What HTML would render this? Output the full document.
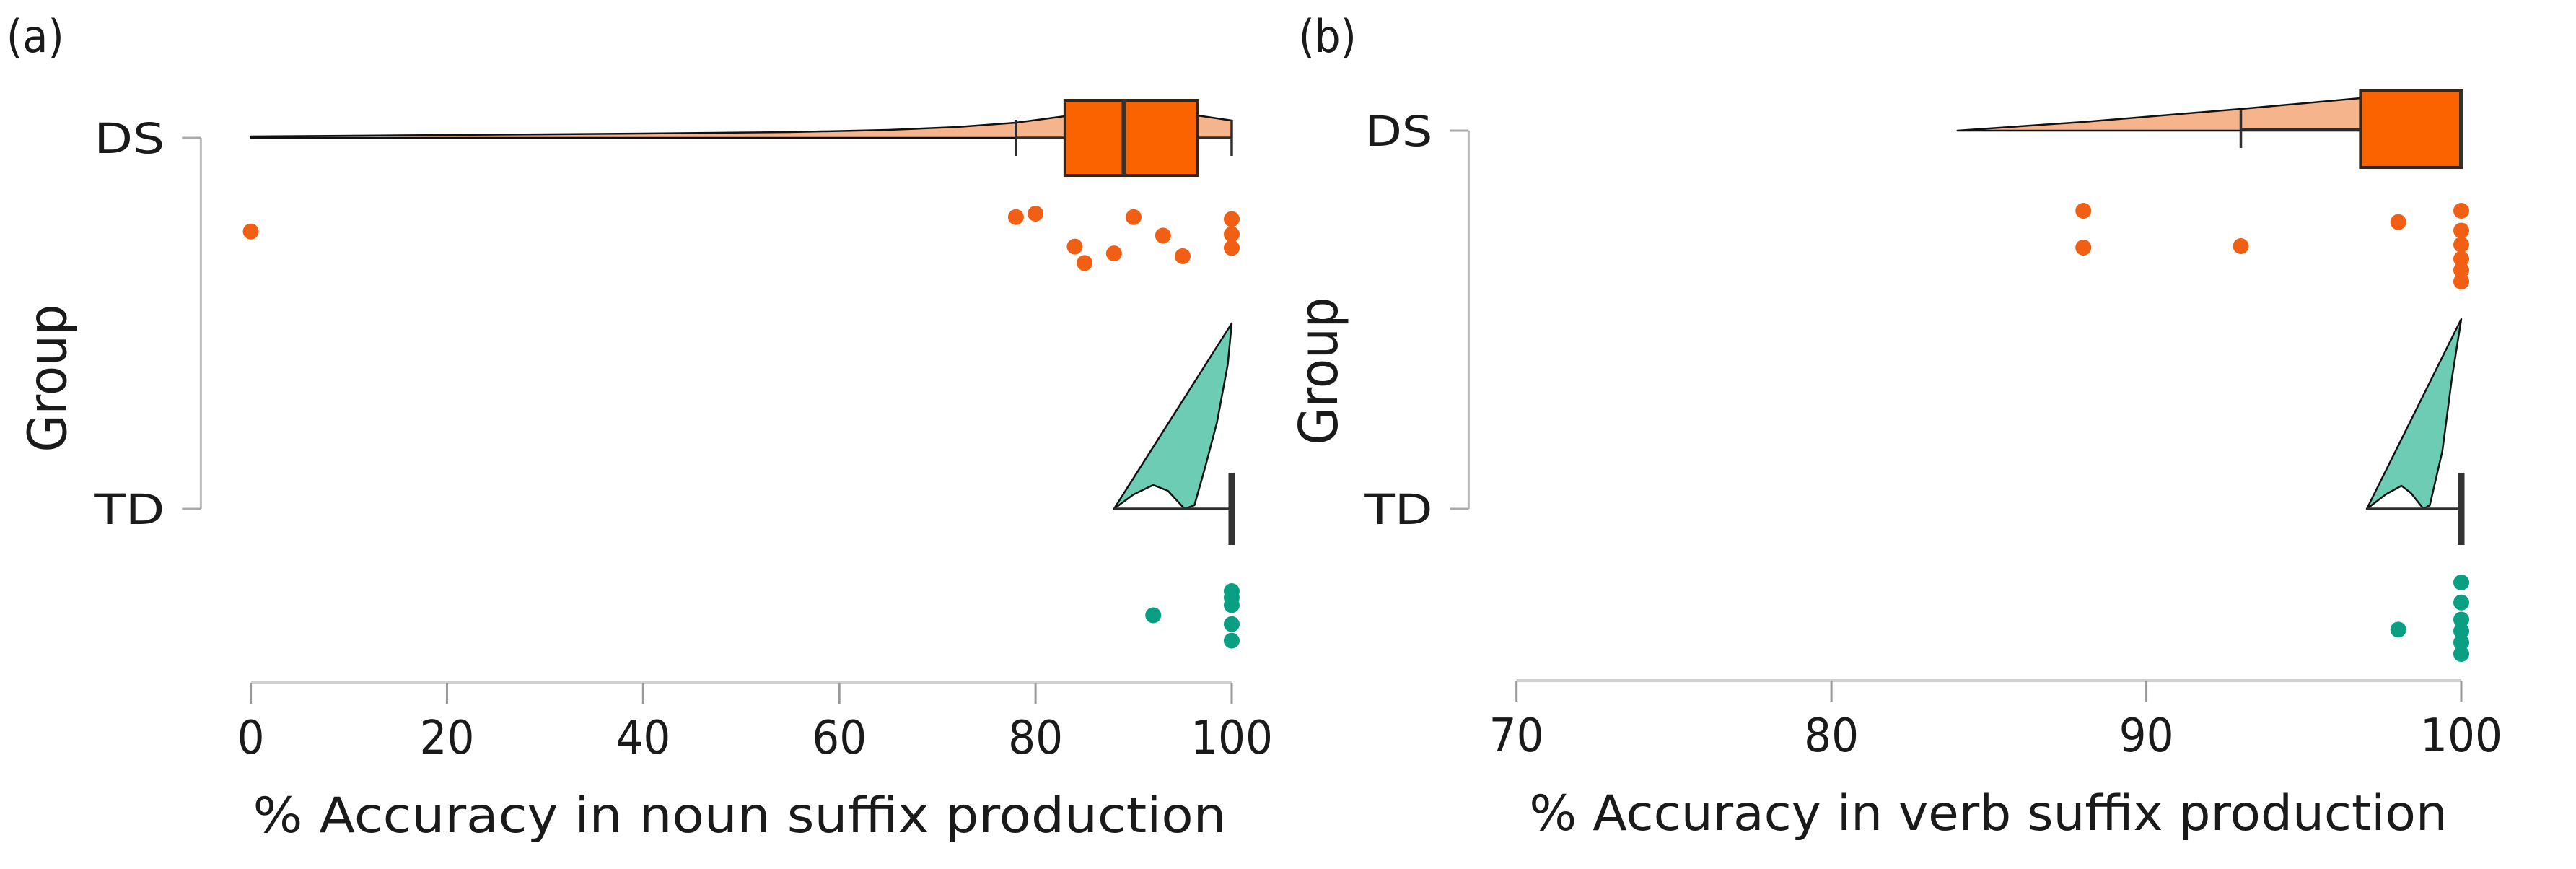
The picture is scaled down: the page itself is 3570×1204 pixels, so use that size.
<!DOCTYPE html>
<html><head><meta charset="utf-8"><style>
html,body{margin:0;padding:0;background:#fff;}
svg{display:block;}
text{font-family:"DejaVu Sans","Liberation Sans",sans-serif;fill:#1a1a1a;}
</style></head>
<body>
<svg id="chart" width="3570" height="1204" viewBox="0 0 3570 1204" xmlns="http://www.w3.org/2000/svg">
<g id="pa"></g>
<g id="pb"></g>
</svg>
<script>
// ---- Panel A data (noun suffix) ----
const groups = ["DS", "TD"];
const ticksA = [0, 20, 40, 60, 80, 100];
const dsNounValues = [0, 78, 80, 90, 100, 100, 100, 93, 84, 85, 88, 95];
const dsNounJitter = [0.26, 0.05, 0.0, 0.05, 0.08, 0.30, 0.50, 0.32, 0.48, 0.72, 0.58, 0.62];
const tdNounValues = [100, 100, 100, 100, 100, 92];
const tdNounJitter = [0.0, 0.1, 0.22, 0.52, 0.78, 0.38];
const dsNounBox = [78, 83, 89, 96.5, 100];   // whisker lo, q1, median, q3, whisker hi
const tdNounBox = [88, 100, 100, 100, 100];
const dsNounViolinX = [0, 20, 40, 55, 65, 72, 78, 83, 90, 96, 100];
const dsNounViolinD = [2, 4, 6, 8, 11, 15, 21, 30, 38, 32, 24];
const tdNounViolinX = [88, 100, 99.6, 98.5, 97.3, 96.2, 95.2, 93.5, 92, 90, 88];
const tdNounViolinD = [0, 257, 200, 120, 58, 5, 0, 25, 33, 20, 0];

// ---- Panel B data (verb suffix) ----
const ticksB = [70, 80, 90, 100];
const dsVerbValues = [88, 88, 93, 98, 100, 100, 100, 100, 100, 100];
const dsVerbJitter = [0.0, 0.52, 0.5, 0.16, 0.0, 0.28, 0.48, 0.68, 0.84, 1.0];
const tdVerbValues = [100, 100, 100, 100, 100, 100, 98];
const tdVerbJitter = [0.0, 0.28, 0.52, 0.68, 0.84, 1.0, 0.66];
const dsVerbBox = [93, 96.8, 100, 100, 100];
const tdVerbBox = [97, 100, 100, 100, 100];
const dsVerbViolinX = [84, 88, 93, 96.8, 96.8];
const dsVerbViolinD = [0, 12, 30, 45, 0];
const tdVerbViolinX = [97, 100, 99.7, 99.4, 99.0, 98.8, 98.4, 98.1, 97.6, 97];
const tdVerbViolinD = [0, 263, 180, 80, 5, 0, 22, 32, 20, 0];

const K = 1.4728;
const NS = "http://www.w3.org/2000/svg";
function mk(parent, tag, attrs, txt){
  const e = document.createElementNS(NS, tag);
  for (const k in attrs) e.setAttribute(k, attrs[k]);
  if (txt !== undefined) e.textContent = txt;
  parent.appendChild(e);
  return e;
}
const ORANGE="#f05f14", BOXFILL="#fb6200", PEACH="#f6b48c", TEAL="#6cccb4", TEALPT="#0a9e82", DARK="#2e2e2e";

function drawPanel(g, cfg){
  const sx = v => K*(cfg.x0 + (v - cfg.d0) / (cfg.d1 - cfg.d0) * (cfg.x1 - cfg.x0));
  const yc = [cfg.yDS, cfg.yTD];
  let t = mk(g,'text',{x:cfg.labX*K,y:72,'font-size':62,textLength:80,lengthAdjust:'spacingAndGlyphs'});
  t.textContent = cfg.label;
  
  
  const ax = cfg.yAxX*K;
  let l = mk(g,'line',{x1:ax,x2:ax,y1:yc[0],y2:yc[1],stroke:'#bbb','stroke-width':3});
  
  
  groups.forEach((gname,i)=>{
    let tk = mk(g,'line',{x1:ax-26,x2:ax,y1:yc[i],y2:yc[i],stroke:'#aaa','stroke-width':3});
    
    
    let lb = mk(g,'text',{x:ax-50,y:yc[i]+21,'font-size':58,'text-anchor':'end',textLength:cfg.ylabW,lengthAdjust:'spacingAndGlyphs'},gname);
    
    
  });
  let gt = mk(g,'text',{x:0,y:0,'font-size':74,'text-anchor':'middle',textLength:205,lengthAdjust:'spacingAndGlyphs',transform:`translate(${cfg.groupX*K},${cfg.groupY}) rotate(-90)`},'Group');
  
  
  let xa = mk(g,'line',{x1:sx(cfg.d0),x2:sx(cfg.d1),y1:cfg.axY,y2:cfg.axY,stroke:'#d0d0d0','stroke-width':4});
  
  
  cfg.ticks.forEach(v=>{
    let tk = mk(g,'line',{x1:sx(v),x2:sx(v),y1:cfg.axY,y2:cfg.axY+29,stroke:'#999','stroke-width':3});
    
    
    const s=String(v);
    let tl = mk(g,'text',{x:sx(v),y:cfg.axY+98,'font-size':64,'text-anchor':'middle',textLength:s.length*38,lengthAdjust:'spacingAndGlyphs'},s);
    
    
  });
  let xt = mk(g,'text',{x:cfg.titleX0*K,y:cfg.axY+207,'font-size':68,textLength:cfg.titleW*K,lengthAdjust:'spacingAndGlyphs'},cfg.title);
  
  

  function violin(xs, ds, y, fill, name){
    let d = xs.map((v,i)=>(i?'L':'M')+sx(v).toFixed(1)+','+(y-ds[i]).toFixed(1)).join(' ');
    if (xs[xs.length-1] !== xs[0]) d += ` L${sx(xs[xs.length-1])},${y} L${sx(xs[0])},${y}`;
    d += ' Z';
    let p = mk(g,'path',{d:d,fill:fill,stroke:'#111','stroke-width':2.5,'stroke-linejoin':'round'});
    
    
  }
  violin(cfg.dsVX, cfg.dsVD, yc[0], PEACH, 'violin-ds');
  violin(cfg.tdVX, cfg.tdVD, yc[1], TEAL, 'violin-td');

  function box(b, y, h, name, capH, lowCap){
    const [lo,q1,md,q3,hi] = b;
    let w1 = mk(g,'line',{x1:sx(lo),x2:sx(q1),y1:y,y2:y,stroke:DARK,'stroke-width':3.5});
    
    
    let w2 = mk(g,'line',{x1:sx(q3),x2:sx(hi),y1:y,y2:y,stroke:DARK,'stroke-width':3.5});
    
    
    (lowCap ? [lo,hi] : (q1===hi ? [] : [hi])).forEach(v=>{
      let c = mk(g,'line',{x1:sx(v),x2:sx(v),y1:y-capH/2,y2:y+capH/2,stroke:DARK,'stroke-width':3.5});
      
      
    });
    if (q3 > q1){
      let r = mk(g,'rect',{x:sx(q1),y:y-h/2,width:sx(q3)-sx(q1),height:h,fill:BOXFILL,stroke:'#3a2418','stroke-width':4});
      
      
    }
    const mh = q3>q1 ? h : 100;
    let m = mk(g,'line',{x1:sx(md),x2:sx(md),y1:y-mh/2,y2:y+mh/2,stroke:'#333','stroke-width':q3>q1?6:9});
    
    
  }
  box(cfg.dsBox, cfg.boxY, cfg.boxH, 'box-ds', cfg.capDS, true);
  box(cfg.tdBox, yc[1], 0, 'box-td', 100, false);

  function pts(vals, jit, top, span, col, name){
    vals.forEach((v,i)=>{
      let c = mk(g,'circle',{cx:sx(v),cy:top+jit[i]*span,r:11,fill:col});
      
      
    });
  }
  pts(cfg.dsV, cfg.dsJ, cfg.dsPtTop, cfg.dsPtSpan, ORANGE, 'point-ds');
  pts(cfg.tdV, cfg.tdJ, cfg.tdPtTop, cfg.tdPtSpan, TEALPT, 'point-td');
}

drawPanel(document.getElementById('pa'), {
  label:'(a)', labX:6, x0:236, x1:1159, d0:0, d1:100, ticks:ticksA,
  yDS:191, yTD:705, yAxX:189, groupX:62, groupY:524, axY:946, ylabW:98,
  title:'% Accuracy in noun suffix production', titleX0:238, titleW:916,
  dsVX:dsNounViolinX, dsVD:dsNounViolinD, tdVX:tdNounViolinX, tdVD:tdNounViolinD,
  dsBox:dsNounBox, tdBox:tdNounBox, boxY:191, boxH:104, capDS:50,
  dsV:dsNounValues, dsJ:dsNounJitter, dsPtTop:296, dsPtSpan:95,
  tdV:tdNounValues, tdJ:tdNounJitter, tdPtTop:819, tdPtSpan:88
});
drawPanel(document.getElementById('pb'), {
  label:'(b)', labX:1222, x0:1427, x1:2316, d0:70, d1:100, ticks:ticksB,
  yDS:181, yTD:705, yAxX:1382, groupX:1258, groupY:514, axY:943, ylabW:94,
  title:'% Accuracy in verb suffix production', titleX0:1439, titleW:864,
  dsVX:dsVerbViolinX, dsVD:dsVerbViolinD, tdVX:tdVerbViolinX, tdVD:tdVerbViolinD,
  dsBox:dsVerbBox, tdBox:tdVerbBox, boxY:179, boxH:106, capDS:52,
  dsV:dsVerbValues, dsJ:dsVerbJitter, dsPtTop:292, dsPtSpan:98,
  tdV:tdVerbValues, tdJ:tdVerbJitter, tdPtTop:807, tdPtSpan:99
});
</script>
</body></html>
